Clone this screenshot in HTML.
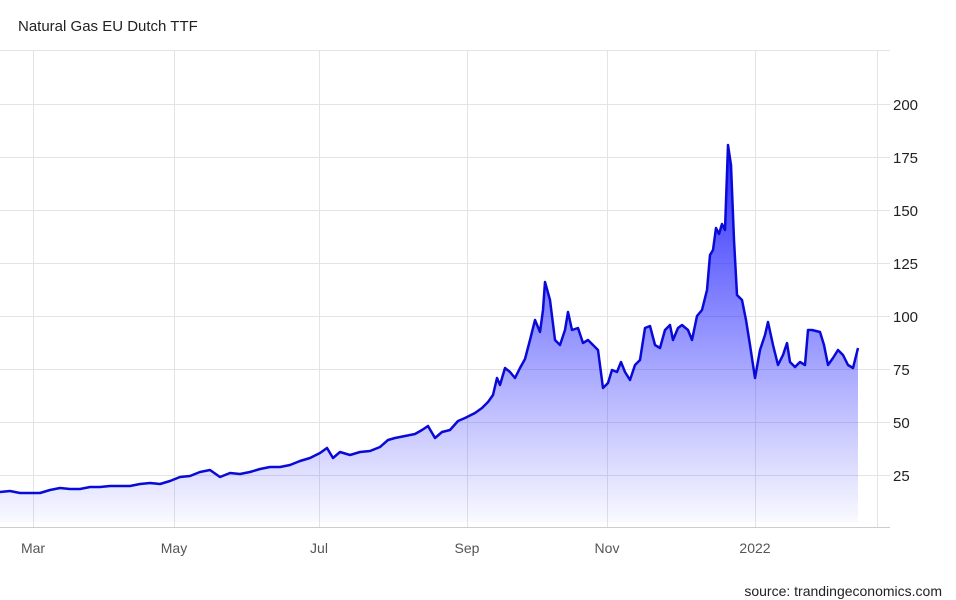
<!DOCTYPE html>
<html><head><meta charset="utf-8"><style>
html,body{margin:0;padding:0;background:#fff;width:956px;height:600px;overflow:hidden}
svg{display:block;font-family:"Liberation Sans",Arial,sans-serif}
</style></head><body>
<svg width="956" height="600" viewBox="0 0 956 600">
<defs><linearGradient id="g" x1="0" y1="140" x2="0" y2="525" gradientUnits="userSpaceOnUse">
<stop offset="0" stop-color="#1a1aff" stop-opacity="0.95"/>
<stop offset="1" stop-color="#2a2aff" stop-opacity="0.02"/></linearGradient></defs>
<text x="18" y="31" font-size="15" fill="#222">Natural Gas EU Dutch TTF</text>
<g stroke="#e4e4e4" stroke-width="1">
<line x1="0" y1="50.5" x2="890" y2="50.5"/>
<line x1="0" y1="104.5" x2="890" y2="104.5"/>
<line x1="0" y1="157.5" x2="890" y2="157.5"/>
<line x1="0" y1="210.5" x2="890" y2="210.5"/>
<line x1="0" y1="263.5" x2="890" y2="263.5"/>
<line x1="0" y1="316.5" x2="890" y2="316.5"/>
<line x1="0" y1="369.5" x2="890" y2="369.5"/>
<line x1="0" y1="422.5" x2="890" y2="422.5"/>
<line x1="0" y1="475.5" x2="890" y2="475.5"/>
<line x1="33.5" y1="50" x2="33.5" y2="527"/>
<line x1="174.5" y1="50" x2="174.5" y2="527"/>
<line x1="319.5" y1="50" x2="319.5" y2="527"/>
<line x1="467.5" y1="50" x2="467.5" y2="527"/>
<line x1="607.5" y1="50" x2="607.5" y2="527"/>
<line x1="755.5" y1="50" x2="755.5" y2="527"/>
<line x1="877.5" y1="50" x2="877.5" y2="527"/>
</g>
<line x1="0" y1="527.5" x2="890" y2="527.5" stroke="#ccc"/>
<g font-size="15" fill="#222">
<text x="893" y="110">200</text><text x="893" y="163">175</text><text x="893" y="216">150</text>
<text x="893" y="269">125</text><text x="893" y="322">100</text><text x="893" y="375">75</text>
<text x="893" y="428">50</text><text x="893" y="481">25</text>
</g>
<g font-size="14" fill="#555" text-anchor="middle">
<text x="33" y="553">Mar</text><text x="174" y="553">May</text><text x="319" y="553">Jul</text>
<text x="467" y="553">Sep</text><text x="607" y="553">Nov</text><text x="755" y="553">2022</text>
</g>
<text x="942" y="596" font-size="14" fill="#222" text-anchor="end">source: trandingeconomics.com</text>
<path id="p" fill="url(#g)" stroke="none" d="M0,492 L10,491 20,493 30,493 40,493 50,490 60,488 70,489 80,489 90,487 100,487 110,486 120,486 130,486 140,484 150,483 160,484 170,481 180,477 190,476 200,472 210,470 220,477 230,473 240,474 250,472 260,469 270,467 280,467 290,465 300,461 310,458 320,453 327,448 333,458 340,452 350,455 360,452 370,451 380,447 388,440 395,438 405,436 415,434 422,430 428,426 435,438 442,432 450,430 458,421 465,418 475,413 482,408 488,402 493,395 497,378 500,385 505,368 510,372 515,378 520,368 525,359 530,340 535,320 540,332 543,310 545,282 550,300 555,340 560,345 565,330 568,312 572,330 578,328 583,343 588,340 593,345 598,350 603,388 608,383 612,370 617,372 621,362 625,372 630,380 635,365 640,360 645,328 650,326 655,345 660,348 665,330 670,325 673,340 678,328 682,325 688,330 692,340 697,316 702,310 707,290 710,255 713,250 716,228 719,234 722,224 725,230 728,145 731,165 734,240 737,295 742,300 746,320 750,345 755,378 760,350 765,335 768,322 773,345 778,365 783,355 787,343 790,362 795,367 800,362 805,365 808,330 812,330 820,332 824,345 828,365 833,358 838,350 843,355 848,365 853,368 858,348 L858,522 L0,522 Z"/>
<polyline fill="none" stroke="#0a0ad8" stroke-width="2.5" stroke-linejoin="round" points="0,492 10,491 20,493 30,493 40,493 50,490 60,488 70,489 80,489 90,487 100,487 110,486 120,486 130,486 140,484 150,483 160,484 170,481 180,477 190,476 200,472 210,470 220,477 230,473 240,474 250,472 260,469 270,467 280,467 290,465 300,461 310,458 320,453 327,448 333,458 340,452 350,455 360,452 370,451 380,447 388,440 395,438 405,436 415,434 422,430 428,426 435,438 442,432 450,430 458,421 465,418 475,413 482,408 488,402 493,395 497,378 500,385 505,368 510,372 515,378 520,368 525,359 530,340 535,320 540,332 543,310 545,282 550,300 555,340 560,345 565,330 568,312 572,330 578,328 583,343 588,340 593,345 598,350 603,388 608,383 612,370 617,372 621,362 625,372 630,380 635,365 640,360 645,328 650,326 655,345 660,348 665,330 670,325 673,340 678,328 682,325 688,330 692,340 697,316 702,310 707,290 710,255 713,250 716,228 719,234 722,224 725,230 728,145 731,165 734,240 737,295 742,300 746,320 750,345 755,378 760,350 765,335 768,322 773,345 778,365 783,355 787,343 790,362 795,367 800,362 805,365 808,330 812,330 820,332 824,345 828,365 833,358 838,350 843,355 848,365 853,368 858,348"/>
</svg>
</body></html>
